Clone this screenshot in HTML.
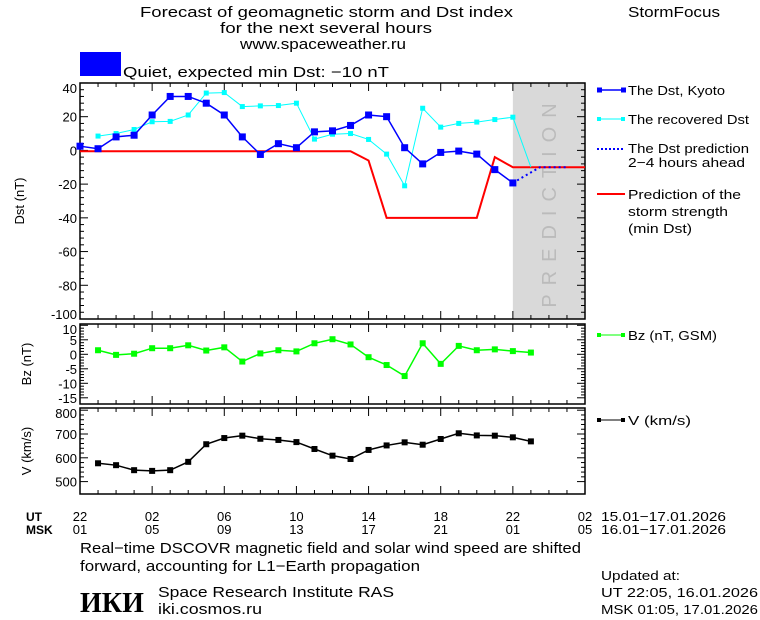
<!DOCTYPE html>
<html><head><meta charset="utf-8"><style>
body{margin:0;background:#fff}
svg{display:block;font-family:"Liberation Sans",sans-serif}
text{font-size:13px;fill:#000}
</style></head><body>
<svg id="c" width="760" height="620" viewBox="0 0 760 620">
<g>
<text x="140" y="17" textLength="373" lengthAdjust="spacingAndGlyphs" style="font-size:15px">Forecast of geomagnetic storm and Dst index</text>
<text x="220" y="33" textLength="212" lengthAdjust="spacingAndGlyphs" style="font-size:15px">for the next several hours</text>
<text x="240" y="49" textLength="166" lengthAdjust="spacingAndGlyphs" style="font-size:15px">www.spaceweather.ru</text>
</g>
<text x="628" y="17" textLength="92" lengthAdjust="spacingAndGlyphs" style="font-size:15px">StormFocus</text>
<rect x="80" y="52" width="41" height="24" fill="#0000ff"/>
<text x="123" y="77" textLength="266" lengthAdjust="spacingAndGlyphs" style="font-size:15px">Quiet, expected min Dst: −10 nT</text>
<g id="g"></g>
<g>
<line x1="597" y1="90" x2="625" y2="90" stroke="#0000ff" stroke-width="1.5"/><rect x="597" y="87.5" width="5" height="5" fill="#0000ff"/><rect x="621" y="87.5" width="5" height="5" fill="#0000ff"/>
<text x="628" y="95" textLength="97" lengthAdjust="spacingAndGlyphs">The Dst, Kyoto</text>
<line x1="597" y1="119" x2="625" y2="119" stroke="#00ffff"/><rect x="597" y="117" width="4" height="4" fill="#00ffff"/><rect x="621" y="117" width="4" height="4" fill="#00ffff"/>
<text x="628" y="124" textLength="121" lengthAdjust="spacingAndGlyphs">The recovered Dst</text>
<line x1="597" y1="149" x2="625" y2="149" stroke="#0000ff" stroke-width="2" stroke-dasharray="2,2"/>
<text x="628" y="153" textLength="121" lengthAdjust="spacingAndGlyphs">The Dst prediction</text><text x="628" y="167" textLength="117" lengthAdjust="spacingAndGlyphs">2−4 hours ahead</text>
<line x1="597" y1="194" x2="625" y2="194" stroke="#ff0000" stroke-width="2"/>
<text x="628" y="199" textLength="113" lengthAdjust="spacingAndGlyphs">Prediction of the</text><text x="628" y="216" textLength="100" lengthAdjust="spacingAndGlyphs">storm strength</text><text x="628" y="233" textLength="64" lengthAdjust="spacingAndGlyphs">(min Dst)</text>
<line x1="597" y1="335" x2="625" y2="335" stroke="#00ff00"/><rect x="597" y="333" width="4" height="4" fill="#00ff00"/><rect x="621" y="333" width="4" height="4" fill="#00ff00"/>
<text x="628" y="340" textLength="89" lengthAdjust="spacingAndGlyphs">Bz (nT, GSM)</text>
<line x1="597" y1="420" x2="625" y2="420" stroke="#000"/><rect x="597" y="418" width="4" height="4" fill="#000"/><rect x="621" y="418" width="4" height="4" fill="#000"/>
<text x="628" y="425" textLength="63" lengthAdjust="spacingAndGlyphs">V (km/s)</text>
</g>
<text x="26" y="521" style="font-size:12px;font-weight:bold">UT</text>
<text x="26" y="534" style="font-size:12px;font-weight:bold">MSK</text>
<text x="601" y="521" textLength="125" lengthAdjust="spacingAndGlyphs">15.01−17.01.2026</text>
<text x="601" y="534" textLength="125" lengthAdjust="spacingAndGlyphs">16.01−17.01.2026</text>
<text x="80" y="553" textLength="501" lengthAdjust="spacingAndGlyphs" style="font-size:15px">Real−time DSCOVR magnetic field and solar wind speed are shifted</text>
<text x="80" y="571" textLength="340" lengthAdjust="spacingAndGlyphs" style="font-size:15px">forward, accounting for L1−Earth propagation</text>
<text x="80" y="612" style="font-size:28px;font-weight:bold;font-family:'Liberation Serif',serif">ИКИ</text>
<text x="158" y="597" textLength="236" lengthAdjust="spacingAndGlyphs" style="font-size:15px">Space Research Institute RAS</text>
<text x="158" y="614" textLength="104" lengthAdjust="spacingAndGlyphs" style="font-size:15px">iki.cosmos.ru</text>
<text x="601" y="580" textLength="79" lengthAdjust="spacingAndGlyphs">Updated at:</text>
<text x="601" y="597" textLength="157" lengthAdjust="spacingAndGlyphs">UT   22:05, 16.01.2026</text>
<text x="601" y="614" textLength="157" lengthAdjust="spacingAndGlyphs">MSK 01:05, 17.01.2026</text>
</svg>
<script>
const dstKyoto=[2.5,1,8,9,21,32,32,28,21,8,-2.4,4,1.6,11,11.6,14.8,21,20,1.6,-8,-1.2,-0.4,-2.2,-11.4,-19.3];
const dstRecovered=[8.5,10,12.4,17,17.2,21,34,34.3,26,26.4,26.6,28,6.7,9.6,10,6.5,-2.2,-21,25,13.8,16,16.8,18.3,19.7,-10];
const dstPredHours=[24,25.5,27];
const dstPredVals=[-19.3,-10,-10];
const stormHours=[0,15,16,17,22,23,24,28];
const stormVals=[-0.5,-0.5,-6,-40,-40,-4,-10,-10];
const bzVals=[1.4,-0.2,0.2,2.1,2.1,3.1,1.3,2.4,-2.5,0.3,1.4,1,3.8,5.2,3.4,-1,-3.7,-7.5,3.8,-3.3,2.9,1.4,1.7,1.1,0.6];
const vVals=[577,569,548,545,548,583,657,683,693,680,675,666,637,609,595,633,652,665,655,679,703,694,693,686,669];
const utLabels=["22","02","06","10","14","18","22","02"];
const mskLabels=["01","05","09","13","17","21","01","05"];
const dstTicks=[40,20,0,-20,-40,-60,-80,-100];
const bzTicks=[10,5,0,-5,-10,-15];
const vTicks=[800,700,600,500];

const NS="http://www.w3.org/2000/svg",G=document.getElementById('g');
function el(t,a,p){const e=document.createElementNS(NS,t);for(const k in a)e.setAttribute(k,a[k]);(p||G).appendChild(e);return e;}
const X0=80,X1=585;
const xh=h=>X0+h*(X1-X0)/28;
const yD=v=>150.4-v*1.686;
const yB=v=>354.3-v*2.9;
const yV=v=>434-(v-700)*0.238;

let band=el('rect',{x:xh(24),y:83,width:X1-xh(24),height:236,fill:'#d9d9d9'});


let pt=el('text',{x:0,y:0,transform:`translate(${xh(26)+7},${201}) rotate(-90)`,'text-anchor':'middle',style:'font-size:20px;fill:#bbb;letter-spacing:9px'});
pt.textContent='PREDICTION';



function panel(name,y0,y1,ticks,yf,title,minor){
  const r=el('rect',{x:X0,y:y0,width:X1-X0,height:y1-y0,fill:'none',stroke:'#000','stroke-width':1.5});
  
  
  for(let h=0;h<=28;h++){const l=h%4==0?8:4;el('line',{x1:xh(h),x2:xh(h),y1:y1,y2:y1-l,stroke:'#000'});el('line',{x1:xh(h),x2:xh(h),y1:y0,y2:y0+l,stroke:'#000'});}
  ticks.forEach((t,i)=>{const y=yf(t);el('line',{x1:X0,x2:X0+8,y1:y,y2:y,stroke:'#000'});el('line',{x1:X1,x2:X1-8,y1:y,y2:y,stroke:'#000'});
    const tx=el('text',{x:X0-3,y:Math.min(Math.max(y+5,y0+10),y1),'text-anchor':'end'});tx.textContent=t;
    
    
    if(i<ticks.length-1){const n=ticks[i+1];for(let k=1;k<minor;k++){const yy=yf(t+(n-t)*k/minor);if(yy<y1){el('line',{x1:X0,x2:X0+4,y1:yy,y2:yy,stroke:'#000'});el('line',{x1:X1,x2:X1-4,y1:yy,y2:yy,stroke:'#000'});}}}});
  const ty=el('text',{x:0,y:0,transform:`translate(${title[1]},${(y0+y1)/2}) rotate(-90)`,'text-anchor':'middle'});ty.textContent=title[0];
  
  
}
panel('dst',83,319,dstTicks,yD,['Dst (nT)',24],5);
panel('bz',324,404,bzTicks,yB,['Bz (nT)',31],5);
panel('v',408,494,vTicks,yV,['V (km/s)',31],5);

function series(name,hours,vals,yf,color,w,ms,dash){
  const d=vals.map((v,i)=>(i?'L':'M')+xh(hours[i])+','+yf(v)).join('');
  const p=el('path',{d:d,fill:'none',stroke:color,'stroke-width':w});
  if(dash)p.setAttribute('stroke-dasharray',dash);
  
  
  if(ms)vals.forEach((v,i)=>{const r=el('rect',{x:xh(hours[i])-ms/2,y:yf(v)-ms/2,width:ms,height:ms,fill:color});
    
    });
}
const h0=dstKyoto.map((_,i)=>i), h1=dstRecovered.map((_,i)=>i+1), h2=bzVals.map((_,i)=>i+1), h3=vVals.map((_,i)=>i+1);
series('storm-strength',stormHours,stormVals,yD,'#ff0000',2,0);
series('dst-recovered',h1.slice(0,-1),dstRecovered.slice(0,-1),yD,'#00ffff',1,5);
series('dst-recovered-tail',h1.slice(-2),dstRecovered.slice(-2),yD,'#00ffff',1,0);
series('dst-kyoto',h0,dstKyoto,yD,'#0000ff',1.5,7);
series('dst-prediction',dstPredHours,dstPredVals,yD,'#0000ff',2,0,'2,3');
series('bz',h2,bzVals,yB,'#00ff00',1.5,6);
series('v',h3,vVals,yV,'#000000',1.5,6);

utLabels.forEach((t,i)=>{const a=el('text',{x:xh(i*4),y:521,'text-anchor':'middle'});a.textContent=t;
  
  
  const b=el('text',{x:xh(i*4),y:534,'text-anchor':'middle'});b.textContent=mskLabels[i];
  
  });
</script>
</body></html>
